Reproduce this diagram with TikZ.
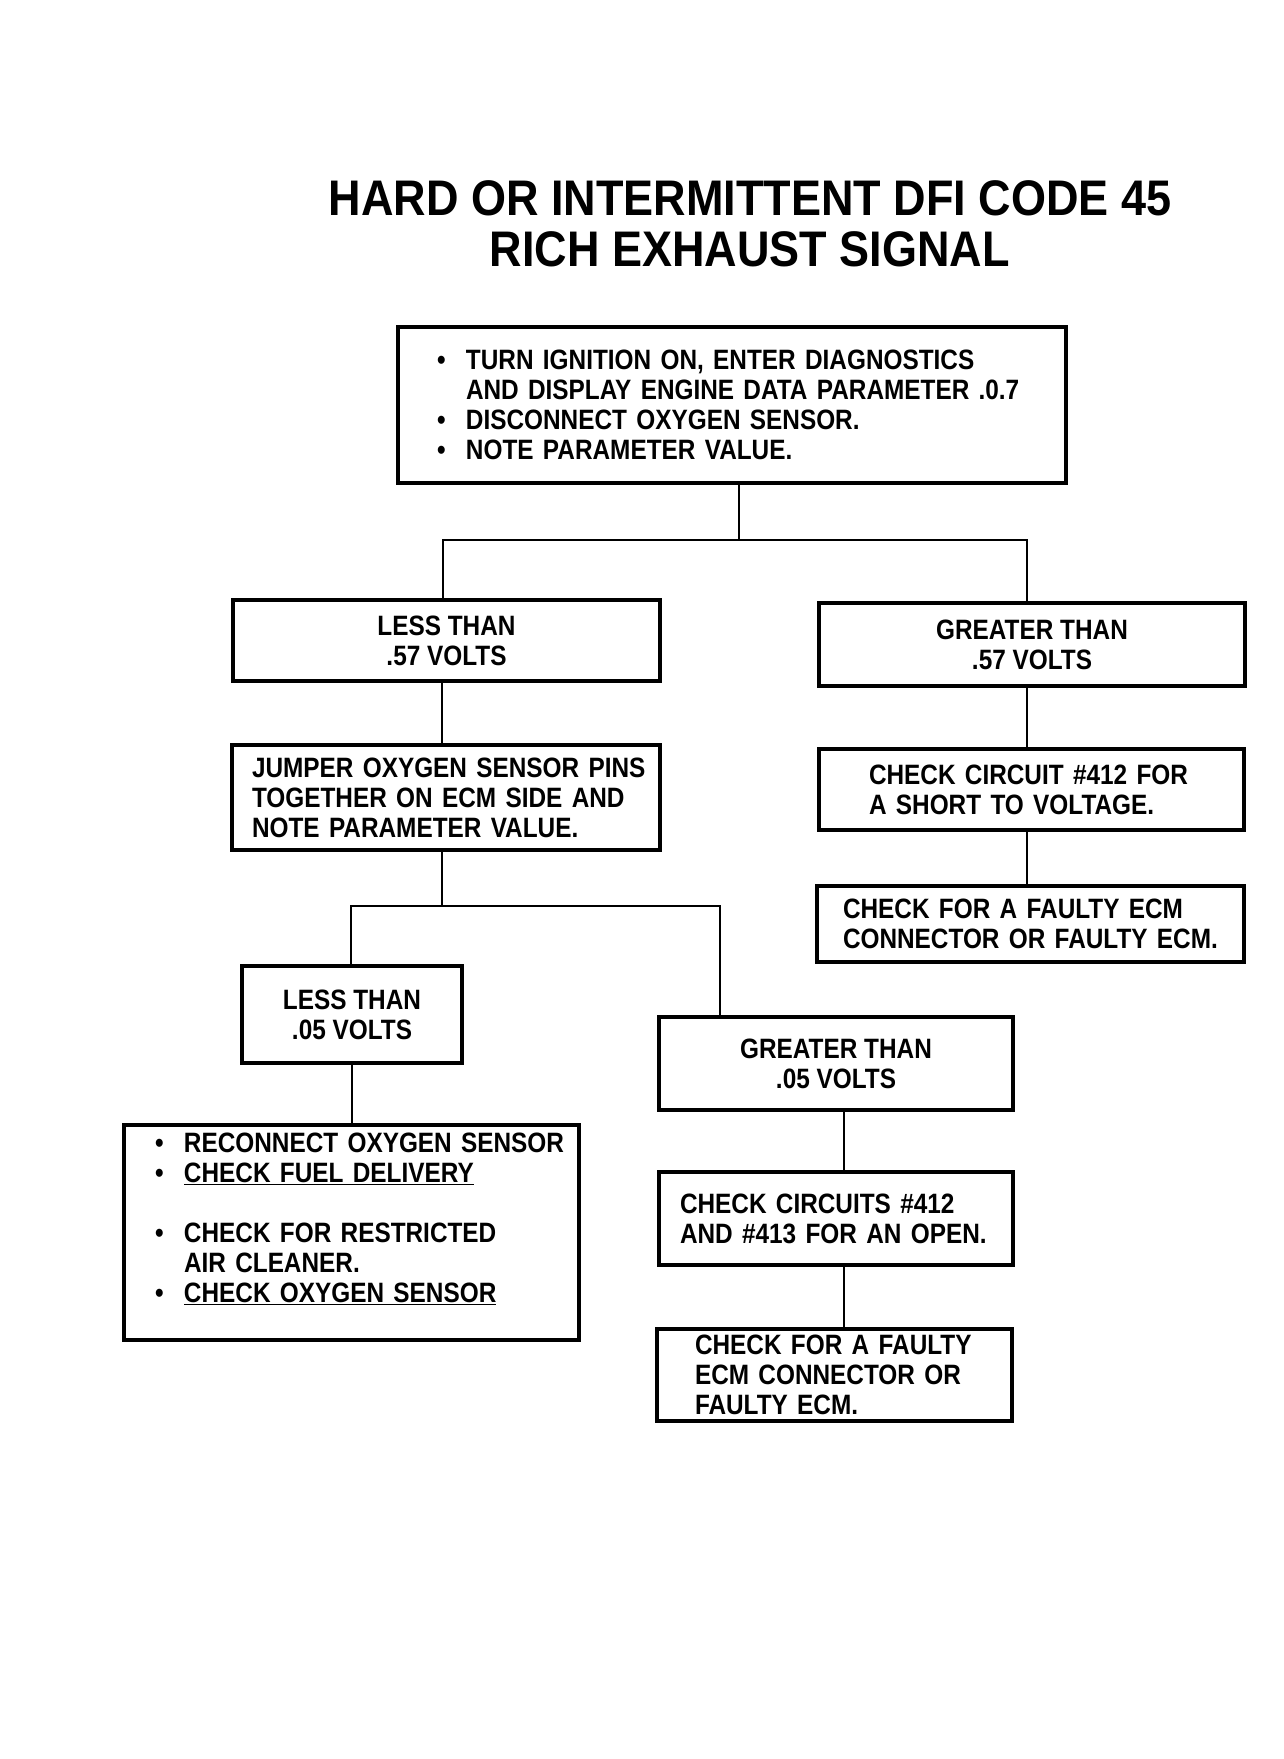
\documentclass[tikz,border=0pt]{standalone}
\usepackage{fontspec}
\newfontfamily\bodyfont{Liberation Sans}[FakeStretch=0.87]
\newfontfamily\titlefont{Liberation Sans}[FakeStretch=0.9]
\newcommand\bul{\makebox[29pt][l]{\textbullet}}
\newcommand\ind{\hspace*{29pt}}
\begin{document}
\begin{tikzpicture}[x=1pt,y=-1pt,
  box/.style={draw, line width=3.8pt, inner ysep=0pt,
    font=\bodyfont\bfseries\fontsize{28}{30}\selectfont},
  cbox/.style={box, align=center},
  lbox/.style={box, align=left},
  titletext/.style={font=\titlefont\bfseries\fontsize{50}{58}\selectfont, inner sep=0pt},
  link/.style={line width=2.8pt}]
\useasboundingbox[fill=white] (0,0) rectangle (1284,1759);

% title
\node[titletext] (t1) at (750,198) {HARD OR INTERMITTENT DFI CODE 45};
\node[titletext] (t2) at (750,249) {RICH EXHAUST SIGNAL};

% boxes
\node[lbox, text width=590pt, inner xsep=39pt, minimum height=156pt] (b1) at (732,405)
 {\mbox{\bul TURN IGNITION ON, ENTER DIAGNOSTICS}\\
  \mbox{\ind AND DISPLAY ENGINE DATA PARAMETER .0.7}\\
  \mbox{\bul DISCONNECT OXYGEN SENSOR.}\\
  \mbox{\bul NOTE PARAMETER VALUE.}};

\node[cbox, minimum width=427pt, minimum height=81pt] (l57) at (446.5,640.5) {LESS THAN\\.57 VOLTS};
\node[cbox, minimum width=426pt, minimum height=83pt] (g57) at (1032,644.5) {GREATER THAN\\.57 VOLTS};

\node[lbox, text width=388pt, inner xsep=20pt, minimum height=105pt] (jmp) at (446,797.5)
 {\mbox{JUMPER OXYGEN SENSOR PINS}\\\mbox{TOGETHER ON ECM SIDE AND}\\\mbox{NOTE PARAMETER VALUE.}};
\node[lbox, text width=325pt, inner xsep=50pt, minimum height=81pt] (c412) at (1031.5,789.5)
 {\mbox{CHECK CIRCUIT \#412 FOR}\\\mbox{A SHORT TO VOLTAGE.}};
\node[lbox, text width=375pt, inner xsep=26pt, minimum height=76pt] (fecm) at (1030.5,924)
 {\mbox{CHECK FOR A FAULTY ECM}\\\mbox{CONNECTOR OR FAULTY ECM.}};

\node[cbox, minimum width=220pt, minimum height=97pt] (l05) at (352,1014.5) {LESS THAN\\.05 VOLTS};
\node[cbox, minimum width=354pt, minimum height=93pt] (g05) at (836,1063.5) {GREATER THAN\\.05 VOLTS};

\node[lbox, text width=393pt, inner xsep=31pt, minimum height=215pt] (bb) at (351.5,1232.5)
 {\mbox{\bul RECONNECT OXYGEN SENSOR}\\
  \mbox{\bul \underline{CHECK FUEL DELIVERY}}\\
  \mbox{}\\
  \mbox{\bul CHECK FOR RESTRICTED}\\
  \mbox{\ind AIR CLEANER.}\\
  \mbox{\bul \underline{CHECK OXYGEN SENSOR}}\\
  \mbox{}};
\node[lbox, text width=312pt, inner xsep=21pt, minimum height=93pt] (cc) at (836,1218.5)
 {\mbox{CHECK CIRCUITS \#412}\\\mbox{AND \#413 FOR AN OPEN.}};
\node[lbox, text width=279pt, inner xsep=38pt, minimum height=92pt] (fb) at (834.5,1375)
 {\mbox{CHECK FOR A FAULTY}\\\mbox{ECM CONNECTOR OR}\\\mbox{FAULTY ECM.}};

% connectors
\coordinate (j1) at (739,540);
\coordinate (j1l) at (443,540);
\coordinate (j1r) at (1027,540);
\draw[link] (b1.south -| j1) -- (j1);
\draw[link] (l57.north -| j1l) -- (j1l) -- (j1r) -- (g57.north -| j1r);
\draw[link] (g57.south -| j1r) -- (c412.north -| j1r);
\draw[link] (c412.south -| j1r) -- (fecm.north -| j1r);

\coordinate (j2) at (442,906);
\coordinate (j2l) at (351,906);
\coordinate (j2r) at (720,906);
\draw[link] (l57.south -| j2) -- (jmp.north -| j2);
\draw[link] (jmp.south -| j2) -- (j2);
\draw[link] (l05.north -| j2l) -- (j2l) -- (j2r) -- (g05.north -| j2r);
\draw[link] (l05.south) -- (l05.south |- bb.north);

\coordinate (cx) at (844,1000);
\draw[link] (g05.south -| cx) -- (cc.north -| cx);
\draw[link] (cc.south -| cx) -- (fb.north -| cx);
\end{tikzpicture}
\end{document}
